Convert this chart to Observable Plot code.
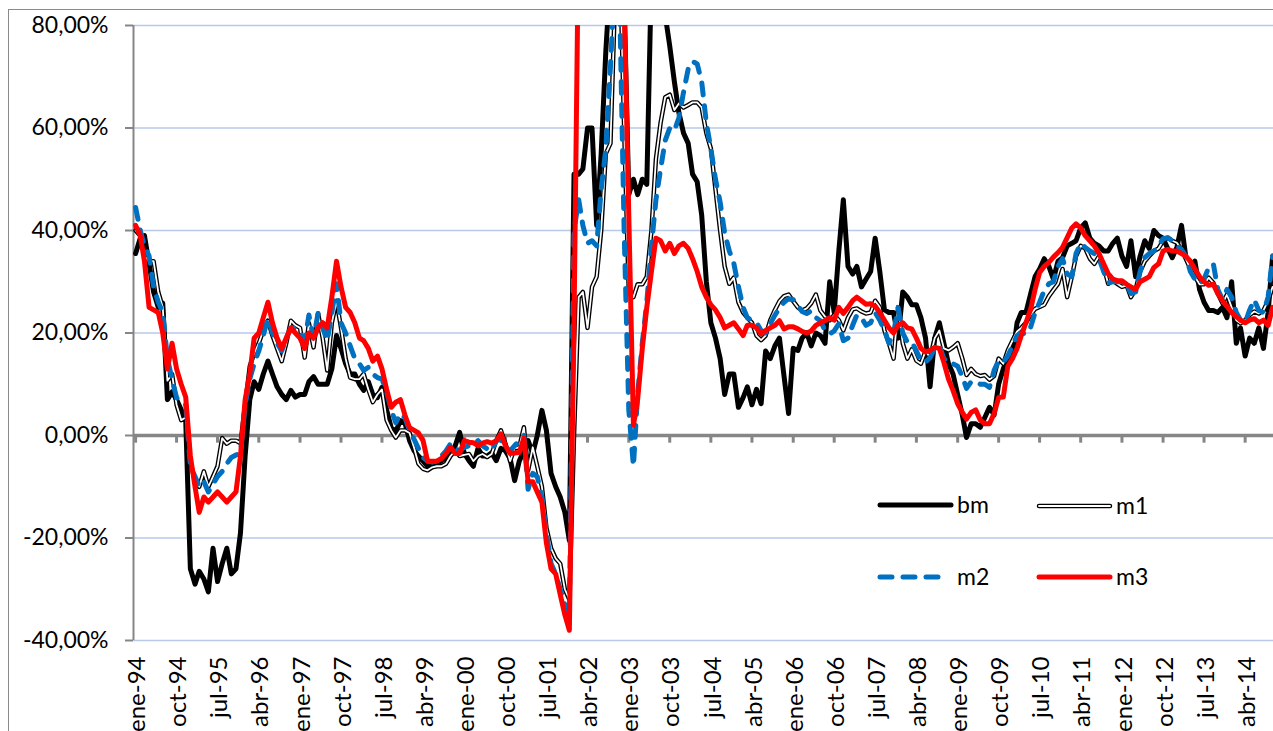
<!DOCTYPE html>
<html><head><meta charset="utf-8">
<script src="https://cdn.jsdelivr.net/npm/d3@7"></script>
<script src="https://cdn.jsdelivr.net/npm/@observablehq/plot@0.6"></script>
<style>
body{margin:0;background:#fff;}
#wrap{position:relative;width:1273px;height:731px;overflow:hidden;font-family:Lato,"Open Sans",sans-serif;}
#chart{position:absolute;left:0;top:0;}
#legend{position:absolute;left:0;top:0;pointer-events:none;}
#frame{position:absolute;left:8px;top:9px;width:1400px;height:900px;border:1px solid #8a8a8a;pointer-events:none;}
</style></head><body>
<div id="wrap"><div id="chart"></div><div id="legend"></div><div id="frame"></div></div>
<script>
// monthly values, ene-94 .. oct-14 (percent)
const bm = [
35.5,38.5,39,33.5,28,25,25.8,7,8.5,7,5,3,
-26,-29,-26.5,-28,-30.5,-22,-28.5,-25,-22,-27,-26,-19,
-4,7,10.5,9,12,14.5,12,9.5,8,7,8.8,7.5,
8,8,10.5,11.5,10,10,10,13,19.5,17,14,12,
12,10,8.8,10.5,8,7.4,9.4,5,1.5,0.8,2.9,2.5,
-1,-3,-4,-5,-6,-5.5,-5.3,-5,-4.3,-3.5,-2,0.6,
-3.5,-4.9,-6,-2.5,-4,-4,-3.4,-4.9,-2.5,-3,-4.5,-8.8,
-5,-3,-1,-3.5,0,4.9,1,-7.4,-10,-12,-15,-20.5,
51,51,52,60,60,41,55,75,90,110,110,85,
47,50,47,50,49,90,110,100,82,76,69,63,
59,57,51,49.5,43,30,22,19,15,8,12,12,
5.5,7.4,9.5,6,9,6.2,16.5,15,17.5,19,11.5,4.3,
17,16.6,19,20,17.5,20,19.5,18,30,24,36,46,
33,31.5,33,29,30.5,32,38.5,32,24.5,24,24,19,
28,27,25.5,25.5,23,19,9.5,19,22,18,14,12,
8,4,-0.4,2.3,2.3,1.6,3.5,5.5,4,10,13,15,
15.2,22,24,24,27.5,31,32.5,34.5,33,30.5,34,34.7,
37,37.5,38,40.5,41.5,38.5,37.5,37,36,36,37.5,38.5,
35,33,38,31,35,38,36.5,40,39,38.5,36.5,34.7,
36.7,41,35,33,34,28.5,26,24.4,24.4,24,25,23,
30,18,21,15.5,19,18,21,17,24,35
];
const m1 = [
40,39,35,34,34,28,25,10.7,12,6,3,3.5,
-5,-9,-10,-7,-10,-8,-6,-0.5,-1.6,-1,-1,-1.5,
6,13.5,16,18,20.5,22.4,19.5,17,14.5,18,22.4,21.5,
21,15.2,21.9,17.2,23.8,19,12.7,22,26.3,21,15,11.3,
11,11,12,9,6.5,8,9,3,1,-0.4,1,1,
0.5,-2.5,-5.5,-6.5,-6.8,-6.2,-6,-6,-5.5,-4,-3,-4,
-3.8,-3.6,-5,-4,-3.6,-4.2,-3.6,-1,1,-1.6,-5,-2.5,
-2.3,1.6,-6.8,-2.3,-6,-10,-18,-22,-24,-25,-30,-32,
0,27,28,21,29,31,40,55,57,85,95,60,
28,27,29.5,29.5,31,40,54,61,66,66.5,63.5,64.8,
64,64.5,65,65,64,59,56,48,40,33,29.6,30.8,
26,24,23,22,19.5,18.6,19.5,22.5,24.5,26.2,27.2,27.5,
26.2,25,24.4,24.8,25.8,27.5,24.4,23.2,22.5,23.5,22.5,20.5,
23,24.6,24.8,24.2,23.8,24,26.3,25,20.5,18,15,25,
18,15,16.8,14.6,14,16.5,15.2,19,20.5,17,16.6,17.2,
18,15,11.8,13,12,11.6,11.8,10.9,11.6,15,14,16.6,
18.5,20.3,21,22,23.5,24.7,25.1,25.5,27.2,28.4,29.6,32.5,
27,31,35,37,36.5,34.5,33.5,35,33,29.6,30.2,29.6,
29,29.3,27,28.5,32,34,35,36,36.5,38,38.6,38,
37.6,36.3,34.5,32.5,31,29.5,29.5,30.8,29.8,27.7,25.8,27.5,
25,22.5,21.9,22.5,23.5,24.2,23.8,24.4,26.3,29
];
const m2 = [
44.5,40,37,35,29,26,24,15,11,7.4,6.5,6,
-6,-8,-10,-9,-11,-9.5,-8,-7,-5.5,-4.3,-3.8,-3.5,
6,11,14,16.5,19.5,23,20,18,16.5,19,21,21,
20,18.5,23.5,19,23.8,21,18.5,24,29.6,22,20,17.5,
15,14,12.7,13.3,12,11.3,11,8.5,5,2.5,4.3,3.5,
1,-0.8,-2.5,-4.3,-5,-5.2,-5,-4,-3,-1.6,-2.5,-3,
-2.3,-2,-1.6,-1,-2,-2.6,-3,-1,-0.8,-2.3,-3,-2,
-1,0,-10.5,-7.4,-8,-12,-19,-25,-27,-30,-33,-36,
40,46,41,37.5,38,37,48,56,72,90,85,40,
5,-6,8,18,26,37,46,52,57.6,60,59.5,62,
67,71.5,73,72.5,69,61,56,50,45.5,39.5,36,33.6,
29,25,23,22.4,22,20.5,20,21.8,23.5,24.8,26,26.7,
26.5,25.3,24.2,23.8,24.3,23,22.4,20.5,19.8,20.4,21.8,18.5,
19,21.5,23.5,23,21.5,22,24,22.5,20.5,18,20,25,
20,18.2,18.3,16.5,14.6,14.3,15.2,17,17.5,15,14,14,
13.5,11.5,9.2,10.5,10.5,10,10,9.4,12.7,14.6,14.3,15.5,
17.5,19.5,20,19.8,21,24,26,28.3,29.6,30,33,34.5,
31.5,31,35.5,37.5,36.7,36,35.5,34.5,32,29.8,30,30,
30,29.5,27.7,28,32,34.7,35.5,36,37,38.4,38.6,38,
37,36.3,35,32,30.5,29.6,30.5,32.8,33.5,28.5,26.5,28.5,
27,24,22.5,22,24.5,26.5,24.4,24,27,35
];
const m3 = [
41,39,34,25,24.5,24,20,13,18,13,10,7.5,
-4,-10,-15,-12,-13,-12,-11,-12,-13,-12,-11,-4,
7,12,19,20,23,26,22,19,17,19,21,20,
19,17,20,19,21,22,21,27,34,29,25,24,
22,19,18.5,17,14.5,15.5,13,9,5.5,6.5,7,4,
1.5,1,0.5,-1,-5,-5,-5,-4.5,-3.5,-2.3,-3.5,-3.5,
-1,-1.3,-1.4,-2,-1.5,-1.2,-1.5,-1,0.3,-2,-3.5,-3.4,
-3.3,-0.5,-9,-9,-11,-13,-21,-26,-27,-31,-35,-38,
22,100,100,100,100,100,100,100,100,100,100,85,
43,2,7,17,25,32,38.5,38,36,37.5,35.5,37,
37.5,36.5,34.5,32,29,27,25.5,24.5,23,21,21.5,22,
20.8,19.5,21.5,21.5,21,19.8,20.5,21,21.5,22.4,20.8,21.2,
21.2,20.8,20.3,20,20.4,21.5,22,22.4,23,22.5,25,23.8,
25,26.3,27,26.3,25.6,25.7,25.2,24,22.5,21,20,21.5,
22,21,20.8,19,17,16.3,16.6,17.2,17,14.3,11,8.8,
6.2,4.5,3.2,4.5,5,3,2.3,2.3,4.3,7.4,7.5,13.5,
15,17,19.5,22,24.5,28.5,31.8,33,33.8,34.8,35.7,36.7,
38.6,40.5,41.3,40.5,39,38,37,35.5,33.5,31.6,30.5,30.2,
30.2,29.5,29,28.5,30,30.5,31,32.8,33.5,36,36.3,36,
36,35.5,35,34,32.5,31,30,29.3,29.5,27.7,26.3,25.2,
24,23.2,22.5,22,22.5,22.8,22,22.5,21.5,25
];
const monthNames = ["ene","feb","mar","abr","may","jun","jul","ago","sep","oct","nov","dic"];
const yTicks = [-40,-20,0,20,40,60,80];
const seriesNames = ["bm","m1","m2","m3"];

const dates = bm.map((_, i) => new Date(Date.UTC(1994, i, 1)));
const tickDates = dates.filter((_, i) => i % 9 === 0);
const xDomain = [new Date(Date.UTC(1993, 11, 18)), new Date(Date.UTC(2014, 9, 7))];
const rows = (name, vals) => vals.map((v, i) => ({series: name, date: dates[i], value: v}));
const dBm = rows("bm", bm), dM1 = rows("m1", m1), dM2 = rows("m2", m2), dM3 = rows("m3", m3);

const fmtPct = d => d.toFixed(2).replace(".", ",") + "%";
const fmtDate = d => monthNames[d.getUTCMonth()] + "-" + String(d.getUTCFullYear()).slice(2);
const axisGray = "#868686";
const lineOpts = {x: "date", y: "value", clip: true, strokeLinejoin: "round", strokeLinecap: "round"};

const chart = Plot.plot({
  width: 1273, height: 731,
  marginLeft: 133, marginRight: 0, marginTop: 25, marginBottom: 91,
  style: {fontFamily: "Lato, 'Open Sans', sans-serif", fontSize: "23px", background: "transparent", color: "#000"},
  x: {type: "utc", domain: xDomain, label: null},
  y: {domain: [-40, 80], label: null},
  marks: [
    Plot.gridY(yTicks.filter(d => d !== 0), {stroke: "#b8c9ea", strokeOpacity: 1, strokeWidth: 1.6}),
    Plot.ruleX([xDomain[0]], {stroke: axisGray, strokeWidth: 2}),
    Plot.axisY({ticks: yTicks, tickFormat: fmtPct, tickSize: 8, tickPadding: 17, stroke: axisGray, strokeWidth: 2, fill: "#000", label: null}),
    Plot.axisX({ticks: tickDates, tickFormat: fmtDate, tickRotate: -90, tickSize: 0, tickPadding: 16, fill: "#000", fontSize: 24, dx: 2, label: null}),
    Plot.ruleY([0], {stroke: axisGray, strokeWidth: 3.5}),
    Plot.ruleX(tickDates, {y1: 0, y2: -1.5, stroke: axisGray, strokeWidth: 3}),
    Plot.lineY(dBm, {...lineOpts, stroke: "#000", strokeWidth: 5}),
    Plot.lineY(dM1, {...lineOpts, stroke: "#000", strokeWidth: 4.5}),
    Plot.lineY(dM1, {...lineOpts, stroke: "#fff", strokeWidth: 1.8}),
    Plot.lineY(dM2, {...lineOpts, stroke: "#0070c0", strokeWidth: 5, strokeDasharray: "12,11"}),
    Plot.lineY(dM3, {...lineOpts, stroke: "#ff0000", strokeWidth: 5})
  ]
});
document.getElementById("chart").appendChild(chart);

// legend (inside plot area, as in the reference)
const legendItems = [
  {name: seriesNames[0], x: 880, y: 505, layers: [{stroke: "#000", w: 5}]},
  {name: seriesNames[1], x: 1039, y: 506, layers: [{stroke: "#000", w: 4.5}, {stroke: "#fff", w: 1.8}]},
  {name: seriesNames[2], x: 880, y: 577, len: 62, layers: [{stroke: "#0070c0", w: 5, dash: "12,11"}]},
  {name: seriesNames[3], x: 1039, y: 577, layers: [{stroke: "#ff0000", w: 5}]}
];
const svg = d3.select("#legend").append("svg").attr("width", 1273).attr("height", 731);
for (const it of legendItems) {
  const len = it.len || 71;
  for (const l of it.layers) {
    svg.append("line").attr("x1", it.x).attr("x2", it.x + len).attr("y1", it.y).attr("y2", it.y)
      .attr("stroke", l.stroke).attr("stroke-width", l.w).attr("stroke-linecap", "round")
      .attr("stroke-dasharray", l.dash || null);
  }
  svg.append("text").attr("x", it.x + 77).attr("y", it.y + 8)
    .attr("font-family", "Lato, 'Open Sans', sans-serif").attr("font-size", 23).attr("fill", "#000")
    .text(it.name);
}
</script>
</body></html>
